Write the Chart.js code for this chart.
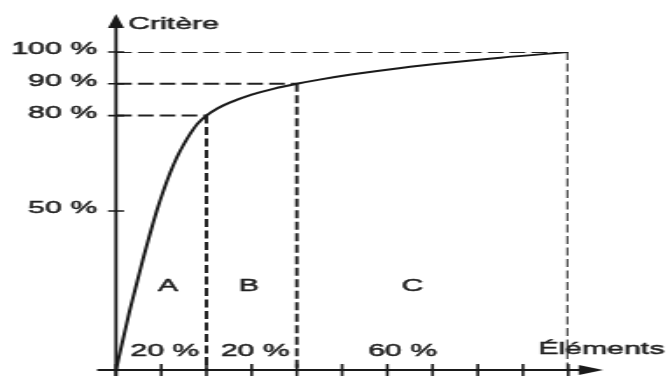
<!DOCTYPE html>
<html lang="fr">
<head>
<meta charset="utf-8">
<title>Courbe ABC</title>
<script src="https://cdn.jsdelivr.net/npm/chart.js@4/dist/chart.umd.min.js"></script>
<style>
  html, body { margin: 0; padding: 0; background: #fff; }
</style>
</head>
<body>
<!-- le canvas est dessiné étroit puis étiré en largeur -->
<canvas id="abc" width="383" height="376" style="display:block;width:670px;height:376px"></canvas>
<script>
// part cumulée des éléments (abscisse) et du critère (ordonnée), en %
const elementsPct = [0, 3, 6, 9, 10.5, 12, 13.5, 15, 16.5, 18, 20, 22.5, 25, 30, 35, 40, 45, 52, 63, 74, 85, 100]
const criterePct = [0, 18.5, 35, 50, 56.4, 62.1, 67, 71, 74.5, 77.4, 80, 82.3, 84, 86.6, 88.5, 90, 91.3, 92.9, 95, 96.7, 98.2, 100]

// classes A / B / C : part des éléments et critère cumulé atteint
const classes = ['A', 'B', 'C']
const classShares = [20, 20, 60]
const classCritere = [80, 90, 100]

const xTicks = [0, 10, 20, 30, 40, 50, 60, 70, 80, 90, 100]
const yTicks = [50, 80, 90, 100]
const xTitle = 'Éléments'
const yTitle = 'Critère'

const ink = '#1a1a1a'
const textInk = '#202020'
const font = { family: '"Liberation Sans", Arial, sans-serif', size: 17.3 }
const textStroke = 0.5

// bornes des classes = cumul des parts
const classEnds = []
classShares.forEach((s, i) => classEnds.push((classEnds[i - 1] || 0) + s))

const curve = elementsPct.map((x, i) => ({ x, y: criterePct[i] }))

const guides = []
classEnds.forEach((xe, i) => {
	const ye = classCritere[i]
	guides.push({
		data: [{ x: 0, y: ye }, { x: xe, y: ye }],
		borderDash: [9, 3.5],
	})
	guides.push({
		data: [{ x: xe, y: ye }, { x: xe, y: 0 }],
		borderDash: [8, 3.5],
	})
})

// axes fléchés, graduations et textes
const abcAxes = {
	id: 'abcAxes',
	afterDatasetsDraw(chart) {
		const { ctx, scales: { x, y } } = chart
		const x0 = x.getPixelForValue(0)
		const y0 = y.getPixelForValue(0)
		const xEnd = x.getPixelForValue(100)
		const yTop = y.getPixelForValue(100)

		ctx.save()
		ctx.strokeStyle = ink
		ctx.fillStyle = ink
		ctx.lineWidth = 1.8

		// axe vertical + flèche
		ctx.beginPath()
		ctx.moveTo(x0, chart.height)
		ctx.lineTo(x0, yTop - 26)
		ctx.stroke()
		ctx.beginPath()
		ctx.moveTo(x0, yTop - 38)
		ctx.lineTo(x0 - 4.6, yTop - 24)
		ctx.lineTo(x0 + 4.6, yTop - 24)
		ctx.closePath()
		ctx.fill()

		// axe horizontal + flèche
		ctx.beginPath()
		ctx.moveTo(x0 - 10.8, y0)
		ctx.lineTo(xEnd + 8, y0)
		ctx.stroke()
		ctx.beginPath()
		ctx.moveTo(xEnd + 20, y0)
		ctx.lineTo(xEnd + 6, y0 - 5)
		ctx.lineTo(xEnd + 6, y0 + 5)
		ctx.closePath()
		ctx.fill()

		// graduations
		ctx.lineWidth = 1.6
		ctx.beginPath()
		xTicks.forEach(v => {
			const px = x.getPixelForValue(v)
			ctx.moveTo(px, y0 - 6)
			ctx.lineTo(px, y0 + 6)
		})
		yTicks.forEach(v => {
			const py = y.getPixelForValue(v)
			ctx.moveTo(x0 - 4.6, py)
			ctx.lineTo(x0 + 4.6, py)
		})
		ctx.stroke()

		// textes
		ctx.font = `${font.size}px ${font.family}`
		ctx.fillStyle = textInk
		ctx.strokeStyle = textInk
		ctx.lineWidth = textStroke
		ctx.textBaseline = 'middle'
		const label = (t, v, w) => {
			const px = x.getPixelForValue(v)
			const py = y.getPixelForValue(w)
			ctx.strokeText(t, px, py)
			ctx.fillText(t, px, py)
		}

		ctx.textAlign = 'center'
		const letterX = [11.5, 29.4, 65.5]
		classes.forEach((c, i) => label(c, letterX[i], 26.4))
		const shareX = [10.8, 30.8, 63.4]
		classShares.forEach((s, i) => label(s + ' %', shareX[i], 5.8))

		ctx.textAlign = 'left'
		label(yTitle, 2.7, 108.6)
		label(xTitle, 93.4, 6.6)
		ctx.restore()
	},
}

new Chart(document.getElementById('abc'), {
	type: 'scatter',
	data: {
		datasets: [
			{
				data: curve,
				showLine: true,
				borderColor: ink,
				borderWidth: 2,
				pointRadius: 0,
				cubicInterpolationMode: 'monotone',
			},
			...guides.map(g => ({
				data: g.data,
				showLine: true,
				borderColor: '#222',
				borderWidth: 2,
				borderDash: g.borderDash,
				pointRadius: 0,
			})),
		],
	},
	options: {
		responsive: false,
		devicePixelRatio: 1,
		animation: false,
		events: [],
		layout: { padding: { left: 0, right: 58.2, top: 52, bottom: 6 } },
		scales: {
			x: { type: 'linear', min: 0, max: 100, display: false },
			y: {
				type: 'linear',
				position: 'left',
				min: 0,
				max: 100,
				grid: { display: false, drawTicks: false },
				border: { display: false },
				afterBuildTicks: s => {
					s.ticks = yTicks.map(v => ({ value: v }))
				},
				afterFit: s => {
					s.width = 66.3
					s.paddingTop = 0
					s.paddingBottom = 0
				},
				ticks: {
					autoSkip: false,
					padding: 10.8,
					labelOffset: -2.5,
					color: textInk,
					textStrokeColor: textInk,
					textStrokeWidth: textStroke,
					font,
					callback: v => v + ' %',
				},
			},
		},
		plugins: {
			legend: { display: false },
			tooltip: { enabled: false },
		},
	},
	plugins: [abcAxes],
})
</script>
</body>
</html>
